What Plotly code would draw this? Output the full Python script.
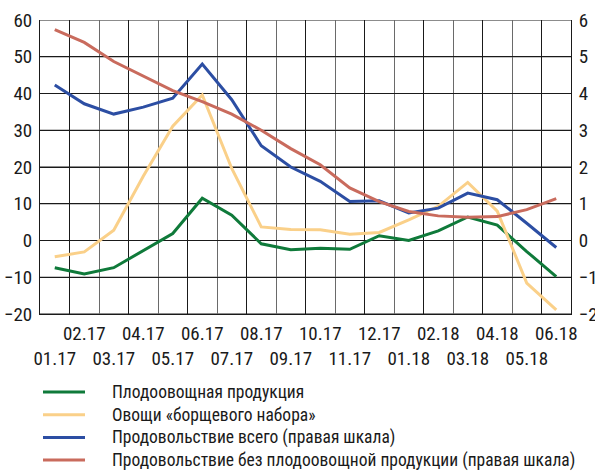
import plotly.graph_objects as go

months = ["01.17", "02.17", "03.17", "04.17", "05.17", "06.17", "07.17", "08.17", "09.17",
          "10.17", "11.17", "12.17", "01.18", "02.18", "03.18", "04.18", "05.18", "06.18"]

# left scale
fruit_veg = [-7.4, -9.1, -7.4, -2.8, 1.9, 11.5, 6.9, -0.9, -2.5,
             -2.1, -2.4, 1.3, 0.0, 2.6, 6.4, 4.2, -3.0, -9.8]
borsch_veg = [-4.4, -3.1, 2.8, 17.5, 31.1, 39.6, 19.6, 3.7, 3.0,
              2.9, 1.7, 2.2, 5.6, 9.3, 15.8, 8.0, -11.6, -18.9]
# right scale
food_total = [4.23, 3.72, 3.44, 3.63, 3.87, 4.80, 3.83, 2.58, 2.0,
              1.61, 1.06, 1.08, 0.75, 0.88, 1.29, 1.11, 0.47, -0.19]
food_ex_fv = [5.74, 5.39, 4.87, 4.48, 4.08, 3.78, 3.44, 3.0, 2.5,
              2.06, 1.43, 1.06, 0.79, 0.67, 0.63, 0.65, 0.84, 1.14]

names = ["Плодоовощная продукция",
         "Овощи «борщевого набора»",
         "Продовольствие всего (правая шкала)",
         "Продовольствие без плодоовощной продукции (правая шкала)"]
colors = ["#0f7a3a", "#fad089", "#2c4ea3", "#c96b5d"]

left_ticks = [-20, -10, 0, 10, 20, 30, 40, 50, 60]
right_ticks = [-2, -1, 0, 1, 2, 3, 4, 5, 6]
left_range = [-20, 60]
right_range = [-2, 6]

FONT = "Roboto Condensed, DejaVu Sans Condensed, sans-serif"
W, H = 595, 473
ML, MR, MT, MB = 40, 24, 20, 159
PW, PH = W - ML - MR, H - MT - MB

n = len(months)
idx = list(range(n))
xr = [-0.5, n - 0.5]

# two-row tick labels: 01.17, 03.17, ... on the lower row
ticktext = [("&nbsp;<br>" + m) if i % 2 == 0 else m for i, m in enumerate(months)]

fig = go.Figure()
series = [fruit_veg, borsch_veg, food_total, food_ex_fv]
xaxes = ["x", "x", "x2", "x2"]
yaxes = ["y", "y", "y2", "y2"]
for s, nm, c, xa, ya in zip(series, names, colors, xaxes, yaxes):
    fig.add_trace(go.Scatter(x=idx, y=s, name=nm, mode="lines", xaxis=xa, yaxis=ya,
                             line=dict(color=c, width=3), showlegend=False))

# horizontal grid lines at the left-scale ticks
for v in left_ticks:
    fig.add_shape(type="line", xref="paper", x0=0, x1=1, yref="y", y0=v, y1=v,
                  layer="below", line=dict(color="#1a1a1a", width=1))

# manual legend (below the plot)
def px_x(p):
    return (p - ML) / PW

def px_y(p):
    return (H - MB - p) / PH

LEG_TOP, LEG_STEP = 392, 22.7
for i, (nm, c) in enumerate(zip(names, colors)):
    yc = px_y(LEG_TOP + LEG_STEP * i)
    fig.add_shape(type="line", xref="paper", yref="paper",
                  x0=px_x(43), x1=px_x(85), y0=yc, y1=yc,
                  line=dict(color=c, width=3))
    fig.add_annotation(xref="paper", yref="paper", x=px_x(111), y=yc,
                       xanchor="left", yanchor="middle", showarrow=False,
                       borderpad=0, text=nm,
                       font=dict(family=FONT, size=17.5, color="#1a1a1a"))

black_grid = [i + 0.5 for i in range(0, n - 1, 2)]
TRANSP = "rgba(0,0,0,0)"

fig.update_layout(
    template="none",
    width=W, height=H,
    margin=dict(l=ML, r=MR, t=MT, b=MB, autoexpand=False),
    paper_bgcolor="white", plot_bgcolor=TRANSP,
    font=dict(family=FONT, size=19, color="#1a1a1a"),
    showlegend=False,
    xaxis=dict(range=xr, tickmode="array", tickvals=idx, ticktext=ticktext,
               ticks="", tickangle=0, showgrid=False, automargin=False,
               minor=dict(tick0=0.5, dtick=1, showgrid=True,
                          gridcolor="#6a6a6a", gridwidth=1, ticks=""),
               zeroline=False, showline=True, linecolor="#1a1a1a", linewidth=1,
               ticklabelstandoff=2),
    xaxis2=dict(range=xr, overlaying="x", anchor="y2", side="bottom",
                tickmode="array", tickvals=black_grid, showticklabels=False,
                showgrid=True, gridcolor="#1a1a1a", gridwidth=1, automargin=False,
                zeroline=False, ticks="", showline=False),
    yaxis=dict(range=left_range, tickmode="array", tickvals=left_ticks,
               showgrid=True, gridcolor="#1a1a1a", gridwidth=1, automargin=False,
               zeroline=False, showline=True, linecolor="#1a1a1a", linewidth=1,
               ticks="outside", ticklen=3, tickcolor=TRANSP),
    yaxis2=dict(range=right_range, tickmode="array", tickvals=right_ticks,
                overlaying="y", side="right", anchor="x", automargin=False,
                showgrid=False, zeroline=False, showline=True, linecolor="#1a1a1a",
                linewidth=1, ticks="outside", ticklen=3, tickcolor=TRANSP),
)

fig.write_html("out.html", config={"displayModeBar": False},
               post_script="document.body.style.margin='0';document.body.style.padding='0';")
